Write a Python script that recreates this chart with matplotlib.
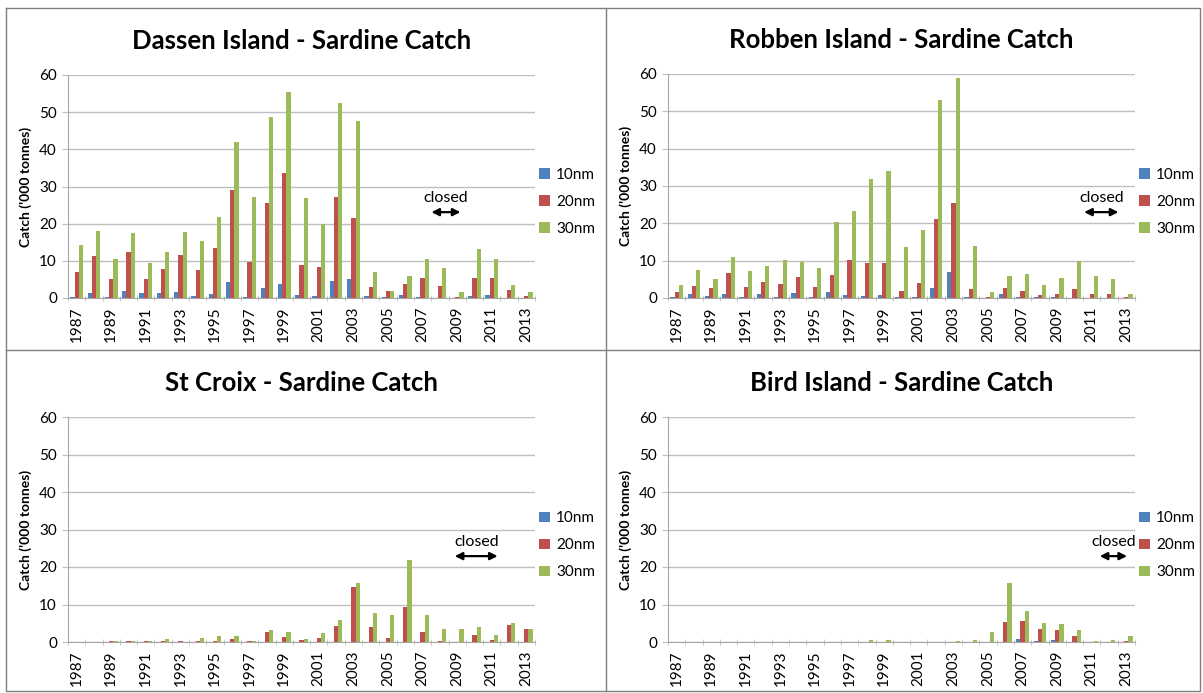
import matplotlib
matplotlib.use("Agg")
import matplotlib.pyplot as plt
from matplotlib.lines import Line2D
from matplotlib.patches import Patch
import numpy as np

plt.rcParams['font.family'] = ['Lato', 'DejaVu Sans']

years = list(range(1987, 2014))
series_names = ["10nm", "20nm", "30nm"]
colors = ["#4F81BD", "#C0504D", "#9BBB59"]

# Dassen Island
dassen_10 = [0.3, 1.4, 0.4, 1.9, 1.3, 1.3, 1.5, 0.6, 1.1, 4.3, 0.4, 2.7, 3.8, 0.9, 0.6, 4.6, 5.0,
             0.6, 0.4, 0.9, 0.2, 0.0, 0.0, 0.6, 0.9, 0.0, 0.0]
dassen_20 = [7.1, 11.4, 5.0, 12.5, 5.2, 7.8, 11.7, 7.6, 13.5, 29.0, 9.8, 25.6, 33.5, 8.8, 8.4, 27.1, 21.5,
             2.9, 1.9, 3.8, 5.3, 3.2, 0.3, 5.3, 5.3, 2.1, 0.6]
dassen_30 = [14.2, 18.1, 10.4, 17.6, 9.3, 12.5, 17.8, 15.4, 21.7, 42.1, 27.2, 48.7, 55.4, 26.8, 19.8, 52.5, 47.6,
             7.0, 2.0, 6.0, 10.5, 8.1, 1.5, 13.2, 10.5, 3.6, 1.5]

# Robben Island
robben_10 = [0.3, 1.1, 0.6, 1.1, 0.4, 1.2, 0.4, 1.4, 0.3, 1.7, 0.9, 0.6, 0.9, 0.2, 0.3, 2.8, 7.0,
             0.2, 0.1, 1.2, 0.4, 0.2, 0.2, 0.1, 0.0, 0.0, 0.0]
robben_20 = [1.7, 3.2, 2.7, 6.8, 3.0, 4.4, 3.8, 5.6, 3.0, 6.1, 10.1, 9.3, 9.5, 2.0, 3.9, 21.2, 25.5,
             2.3, 0.4, 2.8, 2.0, 0.9, 1.2, 2.5, 1.1, 1.1, 0.2]
robben_30 = [3.6, 7.6, 5.0, 10.9, 7.1, 8.5, 10.3, 9.6, 8.1, 20.3, 23.2, 31.9, 34.0, 13.6, 18.1, 53.0, 59.0,
             14.0, 1.7, 6.0, 6.3, 3.4, 5.3, 10.0, 6.0, 5.2, 1.2]

# St Croix
stcroix_10 = [0.0, 0.0, 0.0, 0.0, 0.1, 0.0, 0.0, 0.0, 0.0, 0.0, 0.0, 0.1, 0.0, 0.0, 0.1, 0.0, 0.1,
              0.0, 0.0, 0.1, 0.1, 0.1, 0.0, 0.0, 0.0, 0.1, 0.1]
stcroix_20 = [0.0, 0.0, 0.2, 0.2, 0.4, 0.2, 0.2, 0.4, 0.4, 0.7, 0.2, 2.6, 1.4, 0.6, 1.0, 4.2, 14.8,
              3.9, 1.0, 9.4, 2.6, 0.4, 0.1, 1.8, 0.6, 4.6, 3.4]
stcroix_30 = [0.0, 0.0, 0.2, 0.2, 0.4, 0.8, 0.1, 1.1, 1.5, 1.6, 0.2, 3.2, 2.8, 0.7, 2.4, 5.8, 15.7,
              7.7, 7.1, 21.8, 7.3, 3.5, 3.4, 3.9, 1.9, 5.1, 3.6]

# Bird Island
bird_10 = [0.0] * 20 + [0.7, 0.2, 0.6, 0.0, 0.0, 0.0, 0.0]
bird_20 = [0.0] * 19 + [5.3, 5.6, 3.4, 3.1, 1.6, 0.0, 0.0, 0.2]
bird_30 = [0.0, 0.0, 0.0, 0.0, 0.0, 0.1, 0.0, 0.0, 0.0, 0.1, 0.0, 0.5, 0.5, 0.0, 0.0, 0.0, 0.3,
           0.6, 2.7, 15.8, 8.2, 5.2, 4.9, 3.1, 0.2, 0.5, 1.6]

panels = [
    ("Dassen Island - Sardine Catch", [dassen_10, dassen_20, dassen_30], (2007.35, 2009.35), (23.1, 26.9)),
    ("Robben Island - Sardine Catch", [robben_10, robben_20, robben_30], (2010.4, 2012.7), (23.0, 26.9)),
    ("St Croix - Sardine Catch", [stcroix_10, stcroix_20, stcroix_30], (2008.7, 2011.5), (22.9, 26.7)),
    ("Bird Island - Sardine Catch", [bird_10, bird_20, bird_30], (2011.3, 2013.2), (22.9, 26.7)),
]

W, H = 1203, 693
fig = plt.figure(figsize=(W / 100, H / 100), dpi=100)

# axes boxes in pixels: left, right, top, bottom(zero)
boxes = [(68, 535, 75, 298), (668, 1135, 74, 298), (68, 535, 417, 642), (668, 1135, 417, 642)]
grid_c = "#BFBFBF"
x = np.array(years)
bw = 0.245

for (title, vals, arrow_x, arrow_y), (l, r, t, b) in zip(panels, boxes):
    ax = fig.add_axes([l / W, 1 - b / H, (r - l) / W, (b - t) / H])
    for k, v in enumerate(vals):
        ax.bar(x + (k - 1) * bw, v, width=bw, color=colors[k], linewidth=0, zorder=3)
    ax.set_xlim(1986.5, 2013.5)
    ax.set_ylim(0, 60)
    ax.set_yticks(range(0, 61, 10))
    ax.yaxis.grid(True, color=grid_c, linewidth=1.0, zorder=0)
    ax.set_xticks(years[::2])
    ax.set_xticklabels([str(y) for y in years[::2]], rotation=90, fontsize=11)
    ax.set_xticks(np.arange(1986.5, 2014, 1), minor=True)
    ax.tick_params(axis='x', which='major', length=0, pad=6)
    ax.tick_params(axis='x', which='minor', length=4, direction='inout', color=grid_c)
    ax.tick_params(axis='y', length=4, color=grid_c, labelsize=11, pad=4)
    for s in ['top', 'right']:
        ax.spines[s].set_visible(False)
    for s in ['left', 'bottom']:
        ax.spines[s].set_color("#A6A6A6")
    ax.set_ylabel("Catch ('000 tonnes)", fontsize=10, fontweight='bold', labelpad=5)
    ax.set_title(title, fontsize=18.5, fontweight='bold', pad=19)
    ax.annotate("", xy=(arrow_x[0], arrow_y[0]), xytext=(arrow_x[1], arrow_y[0]),
                arrowprops=dict(arrowstyle="<|-|>", color="black", lw=1.6, mutation_scale=11))
    ax.text((arrow_x[0] + arrow_x[1]) / 2, arrow_y[1], "closed", ha='center', va='center', fontsize=11.5)
    handles = [Patch(facecolor=c, edgecolor='none') for c in colors]
    ax.legend(handles, series_names, loc='center left', bbox_to_anchor=(0.98, 0.43), frameon=False,
              fontsize=11, handlelength=0.7, handleheight=0.7, handletextpad=0.4, labelspacing=0.85)

# panel borders
border = "#7F7F7F"
def fline(xs, ys):
    fig.add_artist(Line2D([v / W for v in xs], [1 - v / H for v in ys], color=border, lw=1.0))

fline([6, 1200, 1200, 6, 6], [8, 8, 691, 691, 8])
fline([606, 606], [8, 691])
fline([6, 1200], [350, 350])

fig.savefig("out.png", dpi=100)
